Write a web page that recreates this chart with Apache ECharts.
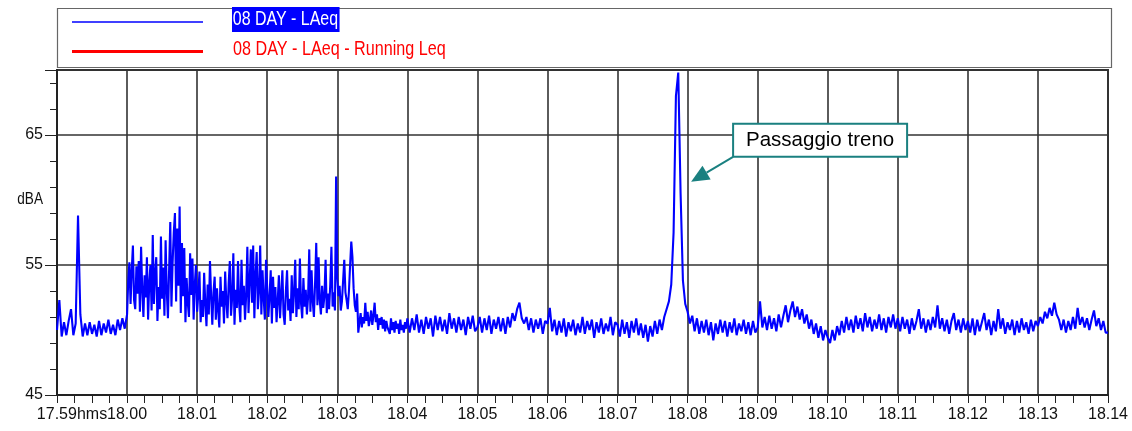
<!DOCTYPE html>
<html>
<head>
<meta charset="utf-8">
<script src="https://cdn.jsdelivr.net/npm/echarts@6/dist/echarts.min.js"></script>
<style>
html,body{margin:0;padding:0;background:#fff;}
#chart{width:1132px;height:431px;}
</style>
</head>
<body>
<div id="chart"></div>
<script>
// LAeq values (dBA), one array per minute starting at 17:59:00.
// Each minute's samples are evenly spaced within that minute (30 -> 2 s, 60 -> 1 s).
const m1759 = [50.0,52.3,49.5,50.6,49.6,50.7,51.6,49.6,50.5,58.8,51.2,49.5,50.5,49.6,50.6,49.7,50.4,49.5,50.7,49.6,50.5,49.8,50.8,49.7,50.4,49.6,50.8,50.0,50.9,50.1];
const m1800 = [51.2,53.8,55.2,52.0,54.6,56.5,52.3,51.6,54.9,52.8,55.3,51.4,56.4,53.1,51.0,54.2,52.5,55.6,50.8,53.6,55.0,51.5,57.3,52.0,54.4,55.6,50.7,53.3,51.6,57.2,
               52.4,54.8,51.1,56.9,53.0,50.9,54.6,58.3,51.8,55.2,57.5,59.0,52.2,57.8,53.4,59.5,51.3,56.7,52.6,56.3,50.6,54.0,52.1,51.0,55.9,52.7,55.5,50.8,53.5,55.0];
const m1801 = [51.4,52.8,54.5,50.6,52.3,51.0,54.4,52.0,50.3,53.5,51.2,55.3,52.6,50.4,52.9,54.1,50.8,53.2,51.5,50.2,54.1,51.8,53.0,50.5,54.5,52.2,50.9,53.6,55.3,51.1,
               52.5,55.9,50.4,53.1,51.7,55.3,52.0,50.6,55.4,51.9,53.4,50.8,52.7,56.4,51.3,53.8,56.2,52.1,56.5,50.9,54.2,56.0,51.6,53.0,56.5,51.2,54.6,52.4,50.8,55.4];
const m1802 = [55.4,51.0,52.6,54.6,50.5,54.1,51.7,53.3,50.6,52.2,54.2,50.9,52.8,54.6,51.2,50.4,53.0,54.6,51.5,52.4,50.7,54.2,51.3,52.9,55.4,51.0,53.2,51.6,55.5,52.0,
               50.9,54.0,51.8,53.1,51.2,52.5,56.2,51.4,54.6,52.2,51.0,53.6,56.7,51.9,55.6,52.3,51.2,53.4,51.7,52.6,55.4,51.3,52.8,51.6,53.5,56.4,51.8,52.9,51.5,61.8];
const m1803 = [54.0,52.6,53.4,51.5,52.2,53.8,55.4,52.9,52.3,51.6,53.0,55.0,56.8,55.6,53.2,51.9,51.4,52.8,49.8,50.6,51.3,50.2,51.0,50.5,52.1,50.7,51.4,50.3,50.8,51.5,
               50.4,51.1,52.1,50.6,51.2,50.0,50.9,50.4,51.0,50.1,50.8,49.9,50.7,50.2,50.3,49.7,50.9,50.0,50.6,49.8,50.7,50.1,50.5,49.7,50.8,50.0,50.4,49.8,50.6,50.1];
const m1804 = [50.9,49.8,50.9,50.0,51.2,49.8,50.8,49.7,51.0,50.1,50.9,49.5,51.1,50.0,51.0,49.9,50.8,49.7,51.3,50.1,50.9,49.8,51.0,50.0,50.8,49.6,51.0,50.1,51.1,49.9];
const m1805 = [50.2,51.0,49.8,50.9,50.0,51.1,49.7,50.8,50.1,51.0,49.9,50.9,49.7,51.0,50.2,51.3,50.7,51.6,52.1,50.9,50.5,51.0,50.0,50.9,49.8,50.8,50.1,50.9,49.7,50.7];
const m1806 = [50.5,51.7,49.9,50.8,49.6,50.7,49.8,50.9,49.5,50.6,49.9,50.8,49.6,50.5,49.8,51.0,49.7,50.7,50.0,50.8,49.4,50.6,49.8,50.9,49.7,50.5,49.9,51.0,49.6,50.6];
const m1807 = [50.4,49.5,50.8,49.7,50.6,49.4,50.7,49.8,50.9,49.6,50.5,49.4,50.4,49.1,50.3,49.5,50.7,49.7,50.8,50.0,51.0,51.6,52.2,53.5,57.5,68.0,69.8,60.5,53.8,52.0];
const m1808 = [51.4,50.5,51.1,49.9,50.9,49.7,50.7,49.8,50.8,49.6,50.6,49.2,50.5,49.7,50.8,49.8,50.7,49.5,50.6,49.8,50.9,49.6,50.5,49.9,50.8,49.7,50.6,49.6,50.7,49.8];
const m1809 = [50.2,52.2,50.2,51.0,50.0,51.1,50.1,50.9,49.9,51.2,50.2,51.1,51.9,50.6,51.5,52.2,51.0,51.8,50.8,51.6,50.5,51.2,50.1,50.8,49.7,50.5,49.4,50.3,49.2,50.0];
const m1810 = [49.4,49.0,50.0,49.2,50.3,49.6,50.7,49.8,51.0,50.0,50.8,49.8,51.1,50.1,50.9,49.9,51.3,50.2,51.0,49.9,50.8,50.1,51.2,50.0,50.9,49.8,51.0,50.2,51.2,50.1];
const m1811 = [50.9,49.9,51.0,50.1,50.8,49.7,50.9,50.0,50.7,51.6,50.1,50.9,49.8,50.8,50.0,51.0,50.2,51.9,50.1,50.9,49.9,50.8,49.7,50.7,51.3,50.0,50.8,49.8,50.9,50.0];
const m1812 = [50.7,49.8,50.9,49.6,50.8,49.9,50.6,51.3,50.0,50.8,49.6,50.7,49.9,51.6,50.1,50.9,49.7,50.6,50.0,50.8,49.6,50.7,49.8,50.9,50.0,50.6,49.7,50.8,49.9,50.7];
const m1813 = [50.3,51.0,50.5,51.4,50.9,51.7,51.1,52.1,51.2,50.8,50.0,50.8,49.8,50.7,50.0,51.0,50.1,51.7,50.4,51.0,50.2,50.9,50.0,50.8,51.5,50.3,50.9,50.0,50.7,49.8];
const m1814 = [49.8];

// Running Leq series (only shown in the legend of the reference)
const runningLeq = [];

// Axis tick labels
const xTickLabels = ['17.59hms','18.00','18.01','18.02','18.03','18.04','18.05','18.06','18.07','18.08','18.09','18.10','18.11','18.12','18.13','18.14'];
const yMin = 45, yMax = 70, yStep = 10;
const xMin = 0, xMax = 900, xStep = 60;

const seriesNames = ['08 DAY - LAeq', '08 DAY - LAeq - Running Leq'];
const yName = 'dBA';
const annotationText = 'Passaggio treno';
const annotationPoint = [543, 61.4];

const minutes = [m1759,m1800,m1801,m1802,m1803,m1804,m1805,m1806,m1807,m1808,m1809,m1810,m1811,m1812,m1813,m1814];
const laeqData = [];
minutes.forEach((arr, mi) => {
  const dt = 60 / arr.length;
  arr.forEach((v, i) => laeqData.push([mi*60 + i*dt, v]));
});

const font = "'Liberation Sans',Arial,sans-serif";
const chart = echarts.init(document.getElementById('chart'), null, {renderer:'canvas'});

chart.setOption({
  animation:false,
  backgroundColor:'#fff',
  grid:{left:57,right:24,top:70,bottom:36,show:true,borderColor:'#333',borderWidth:2,backgroundColor:'transparent'},
  xAxis:{
    type:'value',min:xMin,max:xMax,interval:xStep,
    axisLine:{onZero:false,lineStyle:{color:'#222',width:2}},
    axisTick:{show:true,length:8,lineStyle:{color:'#222',width:1}},
    minorTick:{show:true,splitNumber:4,length:8,lineStyle:{color:'#222',width:1}},
    splitLine:{show:true,lineStyle:{color:'#333',width:1.6}},
    axisLabel:{
      margin:12,color:'#111',fontFamily:font,fontSize:16,showMinLabel:true,showMaxLabel:true,
      formatter:function(v){const i=Math.round(v/xStep);return i===0?'{f|'+xTickLabels[0]+'}':xTickLabels[i];},
      rich:{f:{fontFamily:font,fontSize:16,color:'#111',padding:[0,0,0,30]}}
    }
  },
  yAxis:{
    type:'value',min:yMin,max:yMax,interval:yStep,
    axisLine:{show:true,lineStyle:{color:'#222',width:2}},
    axisTick:{show:true,length:12,lineStyle:{color:'#222',width:1}},
    minorTick:{show:true,splitNumber:5,length:7,lineStyle:{color:'#222',width:1}},
    splitLine:{show:true,lineStyle:{color:'#333',width:1.6}},
    axisLabel:{margin:14,color:'#111',fontFamily:font,fontSize:16,showMaxLabel:false}
  },
  series:[
    {name:seriesNames[0],type:'line',data:laeqData,showSymbol:false,symbol:'none',sampling:null,
     lineStyle:{color:'#0000ff',width:2.1},itemStyle:{color:'#0000ff'},z:3},
    {name:seriesNames[1],type:'line',data:runningLeq,showSymbol:false,symbol:'none',
     lineStyle:{color:'#ff0000',width:3},itemStyle:{color:'#ff0000'}}
  ]
});

const tip = chart.convertToPixel({xAxisIndex:0,yAxisIndex:0}, annotationPoint);
const bx = tip[0]+42, by = tip[1]-58, bw = 174, bh = 33;
const tail = [bx, by+bh];
const dx = tip[0]-tail[0], dy = tip[1]-tail[1], len = Math.hypot(dx,dy);
const ux = dx/len, uy = dy/len, px = -uy, py = ux;
const headLen = 18, headHalf = 8;
const base = [tip[0]-ux*headLen, tip[1]-uy*headLen];
const teal = '#1a8080';

chart.setOption({
  graphic:[
    {type:'rect',shape:{x:57.5,y:8.5,width:1054,height:59},style:{fill:'#fff',stroke:'#666',lineWidth:1.2},z:10},
    {type:'line',shape:{x1:72,y1:22,x2:203,y2:22},style:{stroke:'#0000ff',lineWidth:1.5},z:11},
    {type:'text',x:232,y:19.5,scaleX:0.76,style:{text:seriesNames[0],fill:'#fff',backgroundColor:'#0000ff',padding:[2,2,2,1],font:'21px '+font,verticalAlign:'middle',align:'left'},z:11},
    {type:'line',shape:{x1:72,y1:51.5,x2:203,y2:51.5},style:{stroke:'#ff0000',lineWidth:3},z:11},
    {type:'text',x:233,y:49,scaleX:0.77,style:{text:seriesNames[1],fill:'#ff0000',font:'21px '+font,verticalAlign:'middle',align:'left'},z:11},
    {type:'text',x:43,y:199,scaleX:0.8,style:{text:yName,fill:'#111',font:'17px '+font,verticalAlign:'middle',align:'right'},z:11},
    {type:'line',shape:{x1:tail[0],y1:tail[1],x2:base[0],y2:base[1]},style:{stroke:teal,lineWidth:2},z:12},
    {type:'polygon',shape:{points:[[tip[0],tip[1]],[base[0]+px*headHalf,base[1]+py*headHalf],[base[0]-px*headHalf,base[1]-py*headHalf]]},style:{fill:teal},z:12},
    {type:'rect',shape:{x:bx,y:by,width:bw,height:bh},style:{fill:'#fff',stroke:teal,lineWidth:2},z:12},
    {type:'text',x:bx+bw/2,y:by+bh/2,style:{text:annotationText,fill:'#000',font:'20.5px '+font,align:'center',verticalAlign:'middle'},z:13}
  ]
});
</script>
</body>
</html>
